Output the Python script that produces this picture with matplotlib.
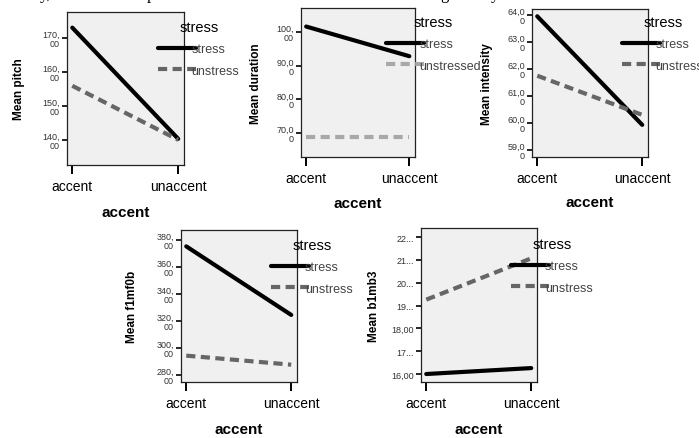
import matplotlib
matplotlib.use("Agg")
import matplotlib.pyplot as plt

plt.rcParams['font.family'] = ['Liberation Sans', 'DejaVu Sans']

W, H = 699, 439

accent_levels = ["accent", "unaccent"]

pitch_stress = [173.0, 140.3]
pitch_unstress = [155.9, 140.0]
duration_stress = [101.6, 92.8]
duration_unstress = [68.9, 68.9]
intensity_stress = [63.95, 59.93]
intensity_unstress = [61.75, 60.3]
f1mf0b_stress = [375.1, 324.4]
f1mf0b_unstress = [294.3, 287.6]
b1mb3_stress = [16.0, 16.26]
b1mb3_unstress = [19.26, 21.07]

pitch_ticks = [140, 150, 160, 170]
pitch_labels = ["140,\n00", "150,\n00", "160,\n00", "170,\n00"]
duration_ticks = [70, 80, 90, 100]
duration_labels = ["70,0\n0", "80,0\n0", "90,0\n0", "100,\n00"]
intensity_ticks = [59, 60, 61, 62, 63, 64]
intensity_labels = ["59,0\n0", "60,0\n0", "61,0\n0", "62,0\n0", "63,0\n0", "64,0\n0"]
f1mf0b_ticks = [280, 300, 320, 340, 360, 380]
f1mf0b_labels = ["280,\n00", "300,\n00", "320,\n00", "340,\n00", "360,\n00", "380,\n00"]
b1mb3_ticks = [16, 17, 18, 19, 20, 21, 22]
b1mb3_labels = ["16,00", "17...", "18,00", "19...", "20...", "21...", "22..."]

fig = plt.figure(figsize=(W / 100, H / 100), dpi=100)

# cropped line of document text above the charts
for x, ch in [(40, "y,"), (147, "p"), (440, "g"), (491, "y")]:
    fig.text(x / W, 1 + 1 / H, ch, fontsize=12, family="Liberation Serif", va="baseline")


def panel(box, ylim, ticks, labels, ylabel, stress, unstress, unstress_color,
          unstress_name, legend_xy, ylabel_x):
    x0, y0, x1, y1 = box
    ax = fig.add_axes([x0 / W, 1 - y1 / H, (x1 - x0) / W, (y1 - y0) / H])
    ax.set_facecolor("#f0f0f0")
    xs = range(len(accent_levels))
    ax.plot(xs, stress, color="black", lw=3, solid_capstyle="round", label="stress")
    ax.plot(xs, unstress, color=unstress_color, lw=3, dashes=(2.2, 1.3),
            label=unstress_name)
    ax.set_xlim(-0.05, 1.055)
    ax.set_ylim(*ylim)
    ax.set_xticks(list(xs))
    ax.set_xticklabels(accent_levels, fontsize=10)
    ax.set_yticks(ticks)
    ax.set_yticklabels(labels, fontsize=6.5, color="#333333", multialignment="right",
                       linespacing=1.0)
    ax.tick_params(axis="x", length=6.5, width=1.4, pad=3.5)
    ax.tick_params(axis="y", length=3.5, width=1.2, pad=1.5)
    for s in ax.spines.values():
        s.set_linewidth(0.9)
        s.set_color("#222222")
    ax.set_xlabel("accent", fontsize=11, fontweight="bold")
    ax.xaxis.set_label_coords(0.5, -0.26)
    ax.set_ylabel(ylabel, fontsize=8.5, fontweight="bold")
    ax.yaxis.set_label_coords((ylabel_x - x0) / (x1 - x0), 0.5)
    leg = ax.legend(loc="upper left", frameon=False, title="stress",
                    bbox_to_anchor=(legend_xy[0] / W, 1 - legend_xy[1] / H),
                    bbox_transform=fig.transFigure, borderpad=0, borderaxespad=0,
                    handlelength=3.0, handletextpad=-0.3, labelspacing=0.75,
                    prop={"size": 9})
    leg.get_title().set_fontsize(10.5)
    for t in leg.get_texts():
        t.set_color("#444444")
    return ax


panel((67, 13, 184, 166), (132.6, 177.6), pitch_ticks, pitch_labels, "Mean pitch",
      pitch_stress, pitch_unstress, "#666666", "unstress", (158, 21), 25)
panel((301, 9, 415, 158), (62.9, 107.1), duration_ticks, duration_labels, "Mean duration",
      duration_stress, duration_unstress, "#a8a8a8", "unstressed", (386, 16), 262)
panel((532, 10, 648, 158), (58.74, 64.22), intensity_ticks, intensity_labels, "Mean intensity",
      intensity_stress, intensity_unstress, "#666666", "unstress", (622, 16), 493)
panel((181, 231, 297, 383), (274.8, 387.2), f1mf0b_ticks, f1mf0b_labels, "Mean f1mf0b",
      f1mf0b_stress, f1mf0b_unstress, "#666666", "unstress", (271, 239), 138)
panel((421, 229, 537, 383), (15.65, 22.4), b1mb3_ticks, b1mb3_labels, "Mean b1mb3",
      b1mb3_stress, b1mb3_unstress, "#666666", "unstress", (511, 238), 380)

fig.savefig("out.png", dpi=100)
